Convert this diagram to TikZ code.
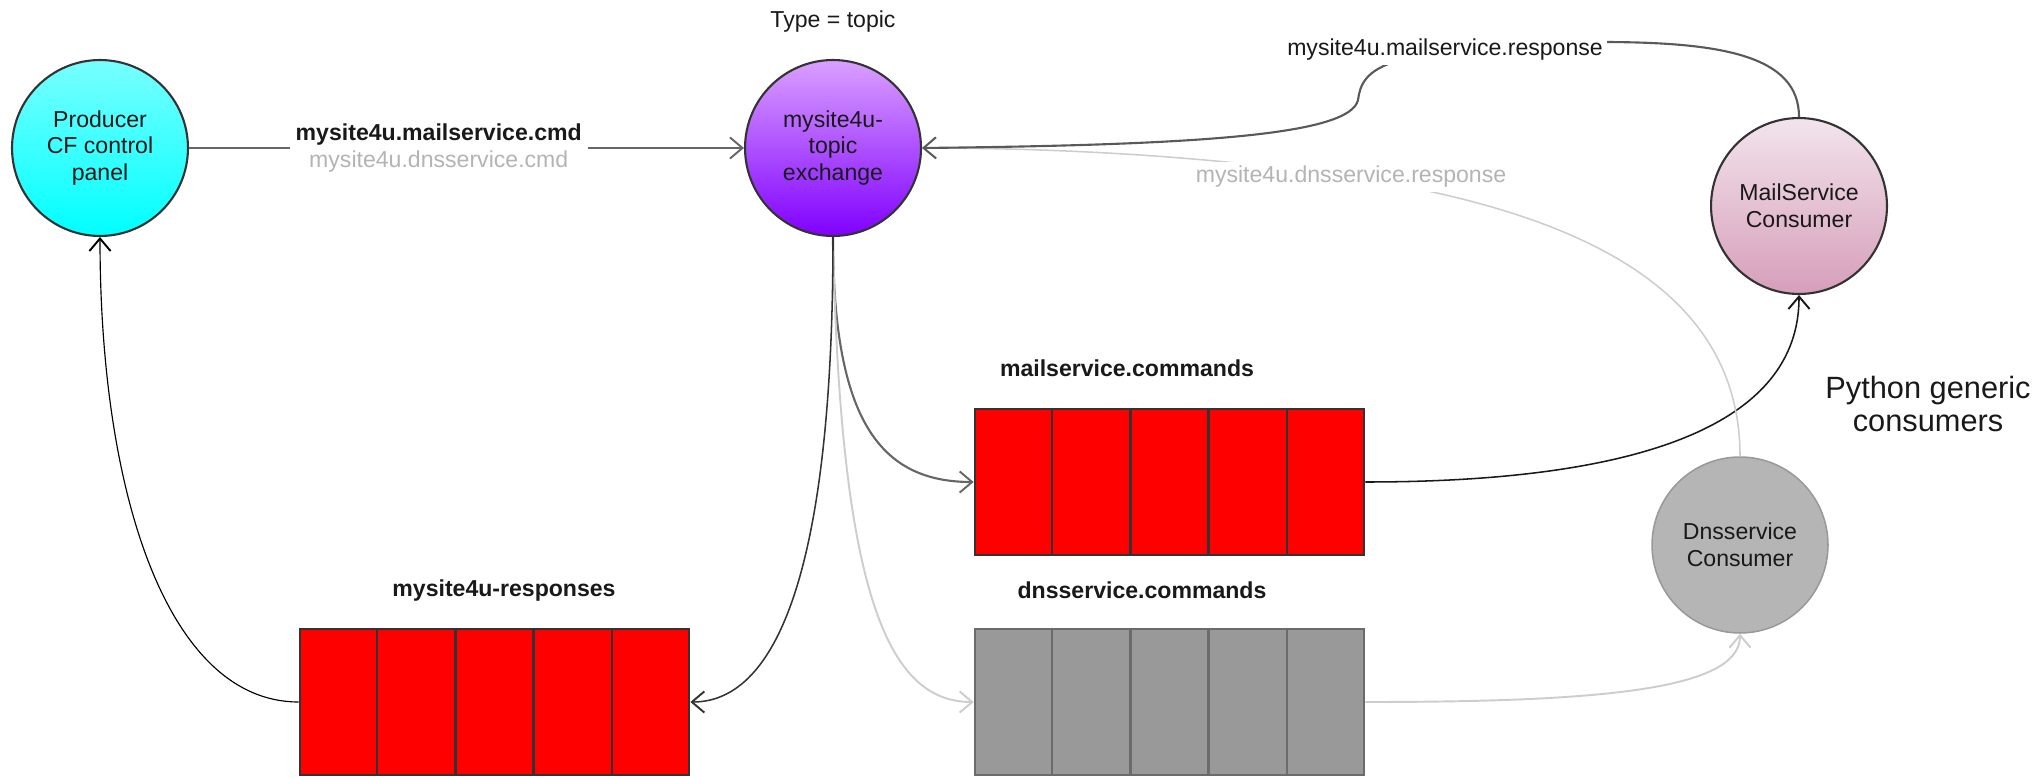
\documentclass[tikz,border=0pt]{standalone}
\usepackage{fontspec}
\setmainfont{Liberation Sans}
\usepackage{xcolor}
\usepackage{tikz}
\usetikzlibrary{arrows.meta,positioning,calc}

\definecolor{cyantop}{RGB}{120,255,255}
\definecolor{violettop}{RGB}{218,160,255}
\definecolor{violetbot}{RGB}{128,0,255}
\definecolor{pinktop}{RGB}{242,228,236}
\definecolor{pinkbot}{RGB}{214,158,186}
\definecolor{queuered}{RGB}{255,0,0}
\definecolor{queuegrey}{RGB}{153,153,153}
\definecolor{faint}{RGB}{180,180,180}
\definecolor{faintline}{RGB}{205,205,205}

\begin{document}
\begin{tikzpicture}[
    x=0.52pt,
    y=-0.52pt,
    >={Straight Barb[length=6.5pt,width=11pt,line width=1pt]},
    every node/.style={font=\fontsize{12}{14}\selectfont, text=black!90},
    actor/.style={circle, draw=black!80, line width=1.1pt, minimum size=91.5pt, inner sep=0pt, align=center},
    queue/.style={rectangle, draw=black!80, line width=1.4pt, fill=queuered, minimum width=202.3pt, minimum height=75.9pt, inner sep=0pt},
    qlabel/.style={font=\fontsize{12}{14}\selectfont\bfseries},
    link/.style={->, line width=0.7pt}
]
\useasboundingbox (0,0) rectangle (2036,778);

% actors
\node[actor, top color=cyantop, bottom color=cyan] (prod) at (100,148) {Producer\\CF control\\panel};
\node[actor, top color=violettop, bottom color=violetbot] (exch) at (833,148) {mysite4u-\\topic\\exchange};
\node (ltype) at (833,22) {Type = topic};
\node[actor, top color=pinktop, bottom color=pinkbot] (msc) at (1799,206) {MailService\\Consumer};
\node[actor, draw=black!40, line width=0.8pt, fill=black!29] (dnsc) at (1740,545) {Dnsservice\\Consumer};
\node[font=\fontsize{16}{17}\selectfont, align=center] (lpy) at (1928,404) {Python generic\\consumers};

% queues
\node[queue] (qresp) at (494.5,702) {};
\node[queue] (qmail) at (1169.5,482) {};
\node[queue, fill=queuegrey, draw=black!58] (qdns) at (1169.5,702) {};
\foreach \q/\c in {qresp/black!80, qmail/black!80, qdns/black!58}
  \foreach \i in {1,...,4}
    \draw[line width=1.4pt, draw=\c] ($(\q.north west)!\i/5!(\q.north east)$) -- ($(\q.south west)!\i/5!(\q.south east)$);
\node[qlabel] (lresp) at (504,591) {mysite4u-responses};
\node[qlabel] (lmail) at (1127,368) {mailservice.commands};
\node[qlabel] (ldns) at (1142,590) {dnsservice.commands};

% commands
\draw[link, draw=black!60, line width=1.1pt] (prod) -- (exch)
  node[pos=0.45, fill=white, align=center, inner sep=3pt] (lcmd) {\bfseries mysite4u.mailservice.cmd\\\textcolor{faint}{mysite4u.dnsservice.cmd}};
\draw[link, draw=black!60, line width=1.1pt] (exch.south) .. controls (833,420) and (880,482) .. (qmail.west);
\draw[link, draw=faintline, line width=1pt] (exch.south) .. controls (840,600) and (890,702) .. (qdns.west);
\draw[link, draw=black!90, line width=0.8pt] (qmail.east) .. controls (1600,482) and (1799,440) .. (msc.south);
\draw[link, draw=faintline, line width=1pt] (qdns.east) .. controls (1600,702) and (1740,690) .. (dnsc.south);

% responses
\draw[link, draw=faintline, line width=0.8pt] (dnsc.north) .. controls (1740,300) and (1600,215) .. (1351,177)
  .. controls (1200,155) and (1050,148) .. (exch.east);
\draw[link, draw=black!65, line width=1.1pt] (msc.north) .. controls (1799,55) and (1720,42) .. (1600,42) -- (1400,60)
  .. controls (1365,70) and (1360,85) .. (1358,100) .. controls (1350,135) and (1200,145) .. (exch.east);
\node[fill=white, inner sep=2pt] (lmresp) at (1445,50) {mysite4u.mailservice.response};
\node[fill=white, inner sep=2pt, text=faint] (ldresp) at (1351,177) {mysite4u.dnsservice.response};
\draw[link, draw=black!80, line width=0.8pt] (exch.south) .. controls (833,560) and (780,702) .. (qresp.east);
\draw[link, draw=black, line width=0.6pt] (qresp.west) .. controls (170,702) and (100,500) .. (prod.south);
\end{tikzpicture}
\end{document}
